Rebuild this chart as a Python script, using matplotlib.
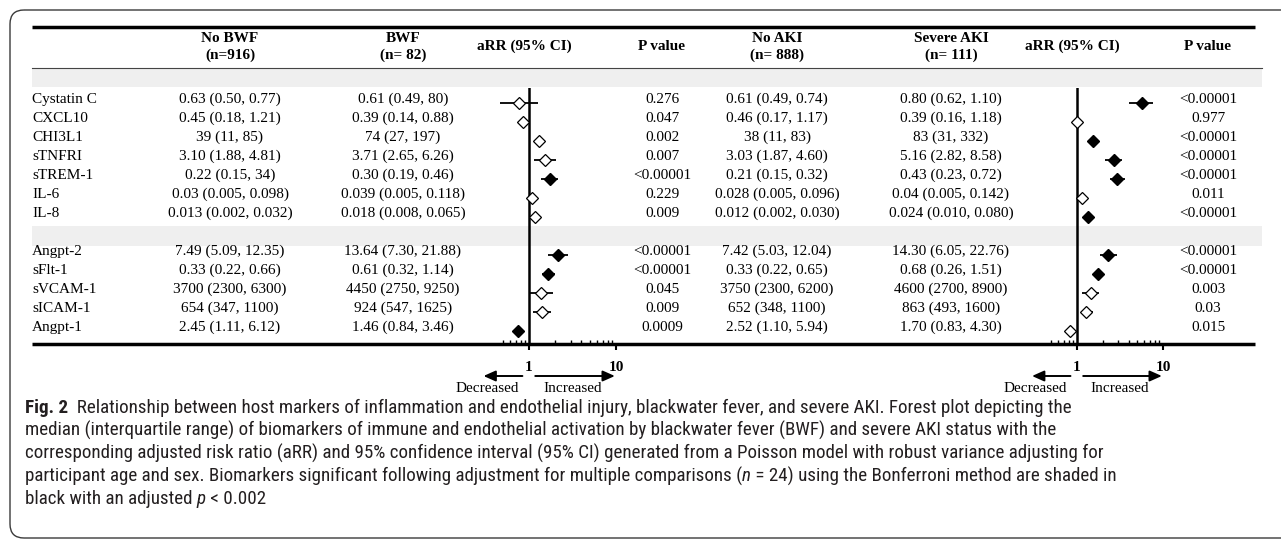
import numpy as np
import matplotlib.pyplot as plt
import matplotlib.font_manager as fm
from matplotlib.patches import FancyBboxPatch, Rectangle
from matplotlib.ticker import FixedLocator, NullFormatter

# ---- data ----
markers = ['Cystatin C', 'CXCL10', 'CHI3L1', 'sTNFRI', 'sTREM-1', 'IL-6', 'IL-8',
           'Angpt-2', 'sFlt-1', 'sVCAM-1', 'sICAM-1', 'Angpt-1']
rows = [0, 1, 2, 3, 4, 5, 6, 8, 9, 10, 11, 12]

no_bwf = ['0.63 (0.50, 0.77)', '0.45 (0.18, 1.21)', '39 (11, 85)', '3.10 (1.88, 4.81)',
          '0.22 (0.15, 34)', '0.03 (0.005, 0.098)', '0.013 (0.002, 0.032)',
          '7.49 (5.09, 12.35)', '0.33 (0.22, 0.66)', '3700 (2300, 6300)',
          '654 (347, 1100)', '2.45 (1.11, 6.12)']
bwf = ['0.61 (0.49, 80)', '0.39 (0.14, 0.88)', '74 (27, 197)', '3.71 (2.65, 6.26)',
       '0.30 (0.19, 0.46)', '0.039 (0.005, 0.118)', '0.018 (0.008, 0.065)',
       '13.64 (7.30, 21.88)', '0.61 (0.32, 1.14)', '4450 (2750, 9250)',
       '924 (547, 1625)', '1.46 (0.84, 3.46)']
p_bwf = ['0.276', '0.047', '0.002', '0.007', '<0.00001', '0.229', '0.009',
         '<0.00001', '<0.00001', '0.045', '0.009', '0.0009']
no_aki = ['0.61 (0.49, 0.74)', '0.46 (0.17, 1.17)', '38 (11, 83)', '3.03 (1.87, 4.60)',
          '0.21 (0.15, 0.32)', '0.028 (0.005, 0.096)', '0.012 (0.002, 0.030)',
          '7.42 (5.03, 12.04)', '0.33 (0.22, 0.65)', '3750 (2300, 6200)',
          '652 (348, 1100)', '2.52 (1.10, 5.94)']
aki = ['0.80 (0.62, 1.10)', '0.39 (0.16, 1.18)', '83 (31, 332)', '5.16 (2.82, 8.58)',
       '0.43 (0.23, 0.72)', '0.04 (0.005, 0.142)', '0.024 (0.010, 0.080)',
       '14.30 (6.05, 22.76)', '0.68 (0.26, 1.51)', '4600 (2700, 8900)',
       '863 (493, 1600)', '1.70 (0.83, 4.30)']
p_aki = ['<0.00001', '0.977', '<0.00001', '<0.00001', '<0.00001', '0.011', '<0.00001',
         '<0.00001', '<0.00001', '0.003', '0.03', '0.015']

# adjusted risk ratios
rr_bwf = [0.77, 0.85, 1.30, 1.53, 1.74, 1.08, 1.17, 2.15, 1.65, 1.37, 1.41, 0.75]
lo_bwf = [0.46, 0.79, 1.22, 1.14, 1.37, 1.03, 1.10, 1.65, 1.41, 1.03, 1.11, 0.70]
hi_bwf = [1.27, 0.92, 1.38, 2.04, 2.15, 1.13, 1.24, 2.81, 1.99, 1.89, 1.79, 0.80]
sig_bwf = [0, 0, 0, 0, 1, 0, 0, 1, 1, 0, 0, 1]

rr_aki = [5.70, 1.00, 1.53, 2.69, 2.92, 1.14, 1.34, 2.29, 1.75, 1.46, 1.27, 0.83]
lo_aki = [4.03, 0.95, 1.45, 2.12, 2.45, 1.08, 1.27, 1.85, 1.63, 1.14, 1.14, 0.78]
hi_aki = [7.65, 1.05, 1.62, 3.34, 3.60, 1.20, 1.41, 2.92, 1.88, 1.80, 1.53, 0.88]
sig_aki = [1, 0, 1, 1, 1, 0, 1, 1, 1, 0, 0, 0]

# caption lines as (text, style) pieces: n normal, b bold, i italic
caption = [
    [('Fig. 2', 'b'), ('  Relationship between host markers of inflammation and endothelial injury, '
                       'blackwater fever, and severe AKI. Forest plot depicting the', 'n')],
    [('median (interquartile range) of biomarkers of immune and endothelial activation by '
      'blackwater fever (BWF) and severe AKI status with the', 'n')],
    [('corresponding adjusted risk ratio (aRR) and 95% confidence interval (95% CI) generated '
      'from a Poisson model with robust variance adjusting for', 'n')],
    [('participant age and sex. Biomarkers significant following adjustment for multiple '
      'comparisons (', 'n'), ('n', 'i'), (' = 24) using the Bonferroni method are shaded in', 'n')],
    [('black with an adjusted ', 'n'), ('p', 'i'), (' < 0.002', 'n')],
]

serif = ['Liberation Serif', 'DejaVu Serif']
fs = 11


def pick_sans():
    # a condensed sans like the journal caption face, if one is installed
    for fam, stretch in [('Liberation Sans Narrow', 'normal'), ('Roboto Condensed', 'normal'),
                         ('DejaVu Sans Condensed', 'normal'), ('DejaVu Sans', 'condensed'),
                         ('Open Sans Condensed', 'normal'), ('Noto Sans Condensed', 'normal')]:
        try:
            f = fm.findfont(fm.FontProperties(family=fam, stretch=stretch),
                            fallback_to_default=False)
        except ValueError:
            continue
        if stretch == 'condensed' and 'ondensed' not in f:
            continue
        return fam, stretch
    return 'Liberation Sans', 'normal'


sans_fam, sans_stretch = pick_sans()

W, H = 1281, 540
y0, dy = 103, 19
top, bottom = 88, 344


def ypix(r):
    return y0 + dy * r


fig = plt.figure(figsize=(W / 100, H / 100), dpi=100)
bg = fig.add_axes([0, 0, 1, 1])
bg.set_xlim(0, W)
bg.set_ylim(H, 0)
bg.axis('off')

# frame round the figure
bg.add_patch(FancyBboxPatch((10, 10), 1400, 528, boxstyle='round,pad=0,rounding_size=14',
                            fill=False, ec='#3a3a3a', lw=1.0))

# table rules and shaded rows
bg.plot([32, 1255], [27, 27], color='black', lw=2.5, solid_capstyle='butt')
bg.plot([32, 1262], [68, 68], color='#444444', lw=0.8)
bg.add_patch(Rectangle((32, 68), 1230, 19, color='#efefef', lw=0))
bg.add_patch(Rectangle((32, ypix(7) - 10), 1230, 20, color='#efefef', lw=0))
bg.plot([32, 1255], [bottom, bottom], color='black', lw=2.5, solid_capstyle='butt')

# headers
hdr_x = [230, 403, 777, 951]
hdr_1 = ['No BWF', 'BWF', 'No AKI', 'Severe AKI']
hdr_2 = ['(n=916)', '(n= 82)', '(n= 888)', '(n= 111)']
for x, a, b in zip(hdr_x, hdr_1, hdr_2):
    bg.text(x, 38, a, ha='center', va='center', family=serif, weight='bold', size=fs)
    bg.text(x, 55, b, ha='center', va='center', family=serif, weight='bold', size=fs)
for x, s in zip([524, 662, 1072, 1208], ['aRR (95% CI)', 'P value', 'aRR (95% CI)', 'P value']):
    bg.text(x, 46, s, ha='center', va='center', family=serif, weight='bold', size=fs)

# table body
cols = [(230, no_bwf), (403, bwf), (662, p_bwf), (777, no_aki), (951, aki), (1208, p_aki)]
for i, r in enumerate(rows):
    yt = ypix(r) - 3.5
    bg.text(32, yt, markers[i], ha='left', va='center', family=serif, size=fs)
    for x, col in cols:
        bg.text(x, yt, col[i], ha='center', va='center', family=serif, size=fs)


def forest(x1, dec, left, right, rr, lo, hi, sig):
    ax = fig.add_axes([left / W, 1 - bottom / H, (right - left) / W, (bottom - top) / H])
    ax.set_xscale('log')
    ax.set_xlim(10 ** ((left - x1) / dec), 10 ** ((right - x1) / dec))
    ax.set_ylim(12 + (bottom - ypix(12)) / dy, -(y0 - top) / dy)
    ax.patch.set_alpha(0)
    for s in ax.spines.values():
        s.set_visible(False)
    ax.set_yticks([])
    ax.set_xticks([1, 10])
    ax.set_xticklabels(['1', '10'], family=serif, weight='bold', size=fs)
    ax.xaxis.set_minor_locator(FixedLocator([0.5, 0.6, 0.7, 0.8, 0.9, 2, 3, 4, 5, 6, 7, 8, 9]))
    ax.xaxis.set_minor_formatter(NullFormatter())
    ax.tick_params(axis='x', which='major', direction='out', length=4, width=1.5, pad=8)
    ax.tick_params(axis='x', which='minor', direction='in', length=3, width=1)
    ax.axvline(1, color='black', lw=1.8)

    y = np.array(rows)
    rr, lo, hi, sig = map(np.array, (rr, lo, hi, sig))
    ax.hlines(y, lo, hi, color='black', lw=1.3, zorder=3)
    f = sig == 1
    ax.plot(rr[f], y[f], 'D', ms=6.5, mfc='black', mec='black', zorder=4)
    ax.plot(rr[~f], y[~f], 'D', ms=6.5, mfc='white', mec='black', mew=0.9, zorder=4)

    tr = ax.get_xaxis_transform()
    ya = -(376 - bottom) / (bottom - top)
    yw = -(388 - bottom) / (bottom - top)
    arrow = dict(arrowstyle='-|>,head_length=0.45,head_width=0.2', color='black', lw=1.4,
                 shrinkA=0, shrinkB=0, mutation_scale=16)
    ax.annotate('', xy=(0.30, ya), xytext=(0.84, ya), xycoords=tr, textcoords=tr,
                arrowprops=arrow, annotation_clip=False)
    ax.annotate('', xy=(9.7, ya), xytext=(1.18, ya), xycoords=tr, textcoords=tr,
                arrowprops=arrow, annotation_clip=False)
    ax.text(0.33, yw, 'Decreased', transform=tr, ha='center', va='center', family=serif, size=fs)
    ax.text(3.15, yw, 'Increased', transform=tr, ha='center', va='center', family=serif, size=fs)
    return ax


forest(529, 87, 480, 625, rr_bwf, lo_bwf, hi_bwf, sig_bwf)
forest(1077, 86, 1030, 1172, rr_aki, lo_aki, hi_aki, sig_aki)

# caption
renderer = fig.canvas.get_renderer()


def props(style, size):
    return fm.FontProperties(family=sans_fam, stretch=sans_stretch, size=size,
                             weight='bold' if style == 'b' else 'normal',
                             style='italic' if style == 'i' else 'normal')


def width(s, style, size):
    # measure with a sentinel so leading/trailing spaces count
    a = bg.text(0, 0, s + '|', fontproperties=props(style, size))
    b = bg.text(0, 0, '|', fontproperties=props(style, size))
    w = a.get_window_extent(renderer).width - b.get_window_extent(renderer).width
    a.remove()
    b.remove()
    return w


# size the caption so its longest line spans the same width as in the source
cap_size = 12 * 1080 / width(caption[2][0][0], 'n', 12)
for i, line in enumerate(caption):
    x = 25
    y = 408 + 22.8 * i
    for s, style in line:
        bg.text(x, y, s, ha='left', va='center', fontproperties=props(style, cap_size),
                color='#231f20')
        x += width(s, style, cap_size)

fig.savefig('out.png', dpi=100)
